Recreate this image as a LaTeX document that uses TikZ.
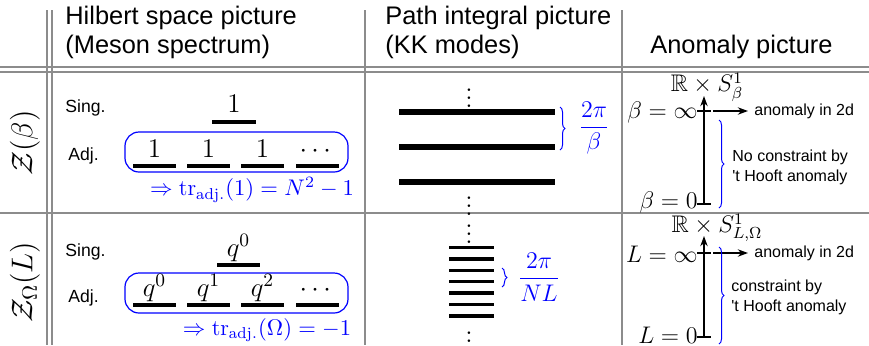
\RequirePackage{fix-cm}
\documentclass[tikz,border=0pt]{standalone}
\usepackage{amsmath,amssymb}
\usepackage{fontspec}
\setsansfont{Liberation Sans}
\usepackage{tikz}
\usetikzlibrary{arrows.meta, positioning, calc, decorations.pathreplacing}
\tikzset{
  tablerule/.style={draw=black!45, line width=0.55pt},
  headtext/.style={font=\sffamily\fontsize{12.7}{14.5}\selectfont, align=left,
                   anchor=west, inner sep=0pt},
  rowlabel/.style={rotate=90, font=\fontsize{15}{18}\selectfont, inner sep=0pt},
  rowtag/.style={font=\sffamily\fontsize{8.8}{10}\selectfont, anchor=west, inner sep=0pt},
  levellab/.style={font=\fontsize{13.5}{16}\selectfont, anchor=base, inner sep=0pt},
  levelbar/.style={line width=1.7pt},
  kkbar/.style={line width=2.7pt},
  kkthin/.style={line width=1.7pt},
  adjbox/.style={draw=blue, rounded corners=7pt, line width=0.6pt},
  bluemath/.style={text=blue, font=\fontsize{11.3}{13}\selectfont, inner sep=0pt},
  bluebrace/.style={draw=blue, line width=0.5pt, decorate,
                    decoration={brace, amplitude=2.5pt}},
  dotsnode/.style={font=\fontsize{13.5}{16}\selectfont, inner sep=0pt},
  anommath/.style={font=\fontsize{12}{14}\selectfont, inner sep=0pt},
  axisarr/.style={-{Stealth[length=1.8mm, width=1.3mm]}, line width=0.6pt},
  ticks/.style={line width=0.6pt},
  notetext/.style={font=\sffamily\fontsize{8}{10}\selectfont, align=left,
                   anchor=west, inner sep=0pt},
}
\begin{document}
\begin{tikzpicture}[x=0.5pt, y=-0.5pt, node distance=2pt]
  \useasboundingbox (0,0) rectangle (869,345);

  % table rules
  \draw[tablerule] (0,67) -- (869,67) (0,72) -- (869,72) (0,213) -- (869,213);
  \draw[tablerule] (47,10) -- (47,345) (52,10) -- (52,345)
                   (365,10) -- (365,345) (622,10) -- (622,345);

  % column heads
  \node[headtext] (hilb) at (65,32) {Hilbert space picture\\(Meson spectrum)};
  \node[headtext] (path) at (385,32) {Path integral picture\\(KK modes)};
  \node[headtext] (anom) at (650,47) {Anomaly picture};

  % row heads
  \node[rowlabel] (zbeta) at (25,143) {$\mathcal{Z}(\beta)$};
  \node[rowlabel] (zomega) at (25,282) {$\mathcal{Z}_{\Omega}(L)$};

  % Hilbert space, first row
  \node[rowtag] (sing1) at (65,108) {Sing.};
  \node[rowtag] (adj1) at (68,156) {Adj.};
  \draw[levelbar] (212,122) -- (256,122);
  \node[levellab] (s1) at (234,112) {$1$};
  \draw[adjbox] (125,132) rectangle (348,172);
  \foreach \x/\lab [count=\i] in {154.5/1, 208.5/1, 262.5/1, 317.5/\cdots} {
    \draw[levelbar] (\x-21.5,166) -- (\x+21.5,166);
    \node[levellab] (a1-\i) at (\x,157) {$\lab$};
  }
  \node[bluemath] (tr1) at (252,190) {$\Rightarrow \mathrm{tr}_{\mathrm{adj.}}(1) = N^2-1$};

  % Hilbert space, second row
  \node[rowtag] (sing2) at (65,252) {Sing.};
  \node[rowtag] (adj2) at (68,298) {Adj.};
  \draw[levelbar] (217,265) -- (260,265);
  \node[levellab] (s2) at (238.5,256) {$q^0$};
  \draw[adjbox] (125,273) rectangle (348,313);
  \foreach \x/\lab [count=\i] in {154.5/q^0, 208.5/q^1, 262.5/q^2, 317.5/\cdots} {
    \draw[levelbar] (\x-21.5,305) -- (\x+21.5,305);
    \node[levellab] (a2-\i) at (\x,296) {$\lab$};
  }
  \node[bluemath] (tr2) at (267,330) {$\Rightarrow \mathrm{tr}_{\mathrm{adj.}}(\Omega) = -1$};

  % KK modes
  \node[dotsnode] (d1) at (469,92) {$\vdots$};
  \foreach \y in {112,147,182}
    \draw[kkbar] (399,\y) -- (555,\y);
  \node[dotsnode] (d2) at (469,200) {$\vdots$};
  \draw[bluebrace] (560,107) -- (560,150);
  \node[bluemath, font=\fontsize{12}{14}\selectfont] (gap1) at (594,128) {$\dfrac{2\pi}{\beta}$};

  \node[dotsnode] (d3) at (469,228) {$\vdots$};
  \foreach \k in {0,...,6}
    \draw[kkthin] (449,247.5+11.4*\k) -- (494,247.5+11.4*\k);
  \node[dotsnode] (d4) at (469,335) {$\vdots$};
  \draw[bluebrace] (502,268) -- (502,287);
  \node[bluemath, font=\fontsize{12}{14}\selectfont] (gap2) at (539,277) {$\dfrac{2\pi}{NL}$};

  % anomaly, first row
  \node[anommath] (rs1) at (707,87) {$\mathbb{R}\times S^1_{\beta}$};
  \coordinate (ax1-bot) at (704,204);
  \coordinate (ax1-top) at (704,96);
  \draw[axisarr] (ax1-bot) -- (ax1-top);
  \draw[ticks] (697,111) -- (711,111) (697,204) -- (711,204);
  \node[anommath, anchor=east] (binf) at (698,112) {$\beta=\infty$};
  \node[anommath, anchor=east] (bzero) at (698,202) {$\beta=0$};
  \coordinate (h1) at (713,111);
  \node[notetext] (an1) at (754,111) {anomaly in 2d};
  \draw[axisarr] (h1) -- ([xshift=-3pt]an1.west);
  \draw[bluebrace] (719,120) -- (719,208);
  \node[notetext] (nc1) at (732,167) {No constraint by\\\textquotesingle t Hooft anomaly};

  % anomaly, second row
  \node[anommath] (rs2) at (717,228) {$\mathbb{R}\times S^1_{L,\Omega}$};
  \coordinate (ax2-bot) at (704,337);
  \coordinate (ax2-top) at (704,236);
  \draw[axisarr] (ax2-bot) -- (ax2-top);
  \draw[ticks] (697,253) -- (711,253) (697,337) -- (711,337);
  \node[anommath, anchor=east] (linf) at (698,254) {$L=\infty$};
  \node[anommath, anchor=east] (lzero) at (698,335) {$L=0$};
  \coordinate (h2) at (713,253);
  \node[notetext] (an2) at (754,253) {anomaly in 2d};
  \draw[axisarr] (h2) -- ([xshift=-3pt]an2.west);
  \draw[bluebrace] (719,247) -- (719,344);
  \node[notetext] (nc2) at (731,297) {constraint by\\\textquotesingle t Hooft anomaly};
\end{tikzpicture}
\end{document}
